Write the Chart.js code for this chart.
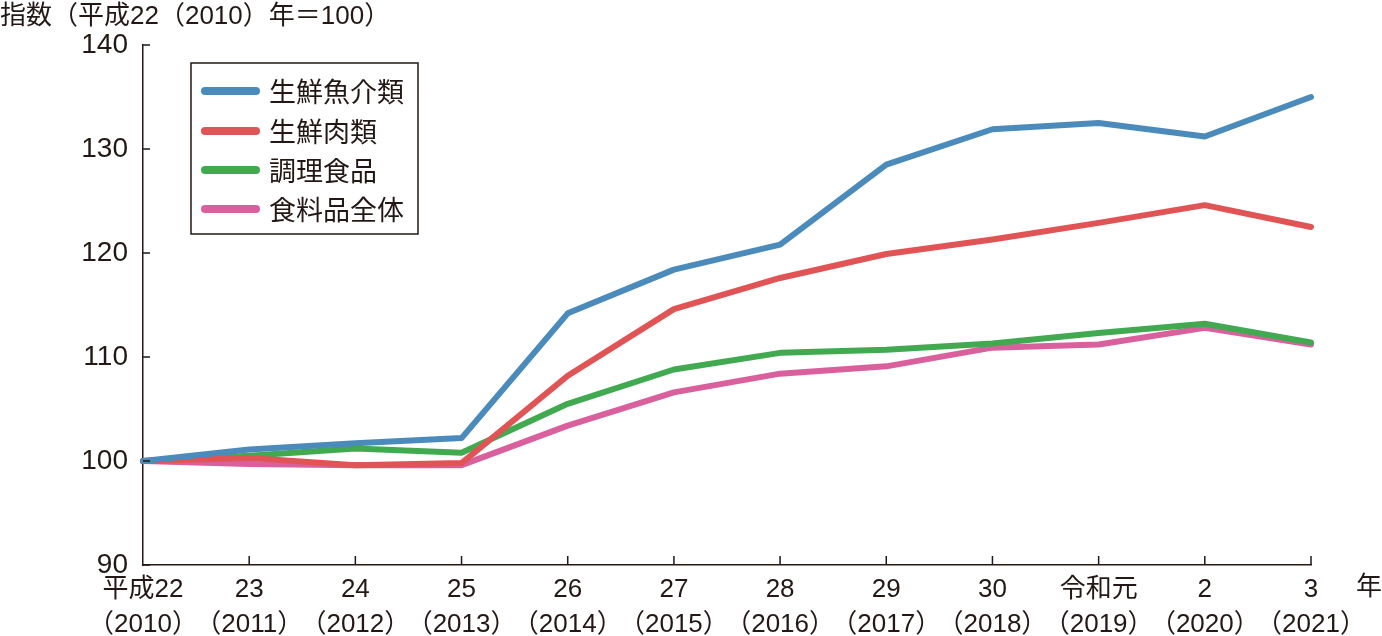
<!DOCTYPE html>
<html>
<head>
<meta charset="utf-8">
<script src="https://cdn.jsdelivr.net/npm/chart.js@4"></script>
<style>
  html, body { margin: 0; padding: 0; background: #fff; }
  #wrap { width: 1382px; height: 636px; }
</style>
</head>
<body>
<div id="wrap"><canvas id="chart"></canvas></div>
<script>
const eraLabels = ['平成22', '23', '24', '25', '26', '27', '28', '29', '30', '令和元', '2', '3'];
const yearLabels = ['（2010）', '（2011）', '（2012）', '（2013）', '（2014）', '（2015）', '（2016）', '（2017）', '（2018）', '（2019）', '（2020）', '（2021）'];

const seafood = [100, 101.1, 101.7, 102.2, 114.2, 118.4, 120.8, 128.5, 131.9, 132.5, 131.2, 135.0];
const meat = [100, 100.3, 99.6, 99.8, 108.2, 114.6, 117.6, 119.9, 121.3, 122.9, 124.6, 122.5];
const prepared = [100, 100.5, 101.2, 100.8, 105.5, 108.8, 110.4, 110.7, 111.3, 112.3, 113.2, 111.4];
const allFood = [100, 99.7, 99.6, 99.6, 103.4, 106.6, 108.4, 109.1, 110.9, 111.2, 112.8, 111.2];

const yTicks = [90, 100, 110, 120, 130, 140];

const FONT = '"Liberation Sans", "Noto Sans CJK JP", sans-serif';
const INK = '#231815';

function series(label, data, color) {
    return {
        label: label,
        data: data,
        borderColor: color,
        backgroundColor: color,
        borderWidth: 6,
        borderCapStyle: 'round',
        borderJoinStyle: 'round',
        pointRadius: 0,
        tension: 0,
        fill: false
    };
}

// inward ticks, axis title, "年" and the boxed legend
const extras = {
    id: 'extras',
    afterDraw(chart) {
        const ctx = chart.ctx;
        const x = chart.scales.x;
        const y = chart.scales.y;
        const area = chart.chartArea;
        ctx.save();
        ctx.strokeStyle = INK;
        ctx.lineWidth = 1.5;
        ctx.beginPath();
        x.ticks.forEach((t, i) => {
            if (i === 0) return;
            const px = x.getPixelForTick(i);
            ctx.moveTo(px, area.bottom);
            ctx.lineTo(px, area.bottom - 9);
        });
        y.ticks.forEach((t, i) => {
            const py = y.getPixelForTick(i);
            ctx.moveTo(area.left, py);
            ctx.lineTo(area.left + 7, py);
        });
        ctx.stroke();

        ctx.fillStyle = INK;
        ctx.font = '26px ' + FONT;
        ctx.textBaseline = 'middle';
        ctx.textAlign = 'left';
        ctx.fillText('指数（平成22（2010）年＝100）', 0, 17);

        ctx.font = '26px ' + FONT;
        ctx.fillText('年', 1356, 588);

        // legend
        const box = { left: 191, top: 63, width: 227, height: 171 };
        ctx.lineWidth = 1.5;
        ctx.strokeRect(box.left, box.top, box.width, box.height);
        const rows = [91, 131, 170, 209];
        ctx.font = '27px "Noto Sans CJK JP", sans-serif';
        chart.data.datasets.forEach((ds, i) => {
            ctx.strokeStyle = ds.borderColor;
            ctx.lineWidth = 8;
            ctx.lineCap = 'round';
            ctx.beginPath();
            ctx.moveTo(205, rows[i]);
            ctx.lineTo(256, rows[i]);
            ctx.stroke();
            ctx.fillStyle = INK;
            ctx.fillText(ds.label, 269, rows[i] + 1);
        });
        ctx.restore();
    }
};

new Chart(document.getElementById('chart'), {
    type: 'line',
    data: {
        labels: eraLabels.map((e, i) => [e, yearLabels[i]]),
        datasets: [
            series('生鮮魚介類', seafood, '#4b8bbb'),
            series('生鮮肉類', meat, '#e15455'),
            series('調理食品', prepared, '#41aa50'),
            series('食料品全体', allFood, '#d9609d')
        ]
    },
    options: {
        responsive: true,
        maintainAspectRatio: false,
        animation: false,
        layout: { padding: { top: 45, right: 71, left: 0, bottom: 0 } },
        plugins: {
            legend: { display: false },
            tooltip: { enabled: false }
        },
        scales: {
            x: {
                offset: false,
                grid: { display: false, drawTicks: false },
                border: { display: true, color: INK, width: 1.5 },
                ticks: {
                    color: INK,
                    font: { family: FONT, size: 26, lineHeight: 1.35 },
                    padding: 7,
                    maxRotation: 0,
                    autoSkip: false
                },
                afterFit(scale) { scale.height = 71; }
            },
            y: {
                min: 90,
                max: 140,
                afterBuildTicks(scale) { scale.ticks = yTicks.map(v => ({ value: v })); },
                grid: { display: false, drawTicks: false },
                border: { display: true, color: INK, width: 1.5 },
                ticks: {
                    color: INK,
                    font: { family: FONT, size: 28 },
                    padding: 15
                },
                afterFit(scale) { scale.width = 143; }
            }
        }
    },
    plugins: [extras]
});
</script>
</body>
</html>
